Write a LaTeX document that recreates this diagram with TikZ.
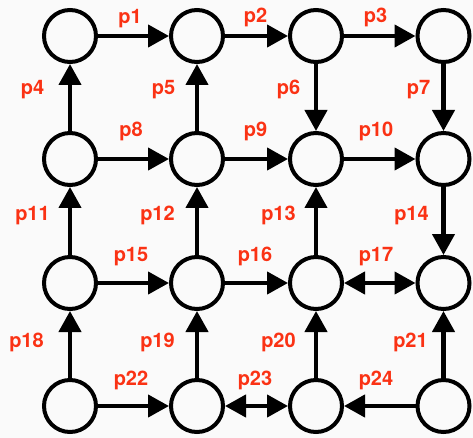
\documentclass[tikz,border=0pt]{standalone}
\usepackage{fontspec}
\setmainfont{TeX Gyre Heros}
\usetikzlibrary{arrows.meta}
\definecolor{lblred}{RGB}{250,50,20}
\definecolor{bg}{RGB}{250,250,250}
\tikzset{
  place/.style={circle, draw=black, line width=4pt, minimum size=52pt, inner sep=0pt},
  tip/.tip={Triangle[length=21pt,width=22pt]},
  edge/.style={line width=4.3pt, -tip},
  both/.style={line width=4.3pt, tip-tip},
  lbl/.style={text=lblred, font=\fontsize{20}{24}\selectfont\bfseries, anchor=base, inner sep=0pt},
}
\begin{document}
\begin{tikzpicture}[x=1pt, y=-1pt]
  \fill[bg] (0,0) rectangle (473,438);
  \useasboundingbox (0,0) rectangle (473,438);
  % 4x4 grid of places
  \foreach \r/\y in {1/36,2/159,3/283,4/406}{
    \foreach \c/\x in {1/70,2/197,3/316,4/443.5}{
      \node[place] (n\r\c) at (\x,\y) {};
    }
  }
  % horizontal connectors
  \draw[edge] (n11) -- (n12);
  \draw[edge] (n12) -- (n13);
  \draw[edge] (n13) -- (n14);
  \draw[edge] (n21) -- (n22);
  \draw[edge] (n22) -- (n23);
  \draw[edge] (n23) -- (n24);
  \draw[edge] (n31) -- (n32);
  \draw[edge] (n32) -- (n33);
  \draw[both] (n33) -- (n34);
  \draw[edge] (n41) -- (n42);
  \draw[both] (n42) -- (n43);
  \draw[edge] (n44) -- (n43);
  % vertical connectors
  \draw[edge] (n21) -- (n11);
  \draw[edge] (n22) -- (n12);
  \draw[edge] (n13) -- (n23);
  \draw[edge] (n14) -- (n24);
  \draw[edge] (n31) -- (n21);
  \draw[edge] (n32) -- (n22);
  \draw[edge] (n33) -- (n23);
  \draw[edge] (n24) -- (n34);
  \draw[edge] (n41) -- (n31);
  \draw[edge] (n42) -- (n32);
  \draw[edge] (n43) -- (n33);
  \draw[edge] (n44) -- (n34);
  % labels
  \node[lbl] (p1) at (130,24) {p1};
  \node[lbl] (p2) at (255.5,23) {p2};
  \node[lbl] (p3) at (375.5,23) {p3};
  \node[lbl] (p4) at (32.5,95) {p4};
  \node[lbl] (p5) at (163.5,95) {p5};
  \node[lbl] (p6) at (288.5,95) {p6};
  \node[lbl] (p7) at (418.5,95) {p7};
  \node[lbl] (p8) at (131,137) {p8};
  \node[lbl] (p9) at (255.5,137) {p9};
  \node[lbl] (p10) at (376,137) {p10};
  \node[lbl] (p11) at (32.5,221) {p11};
  \node[lbl] (p12) at (157.5,221) {p12};
  \node[lbl] (p13) at (278.5,221) {p13};
  \node[lbl] (p14) at (411.5,221) {p14};
  \node[lbl] (p15) at (131,261) {p15};
  \node[lbl] (p16) at (255,261) {p16};
  \node[lbl] (p17) at (376,261) {p17};
  \node[lbl] (p18) at (26.5,347) {p18};
  \node[lbl] (p19) at (157.5,347) {p19};
  \node[lbl] (p20) at (278.5,347) {p20};
  \node[lbl] (p21) at (410.5,347) {p21};
  \node[lbl] (p22) at (131,385) {p22};
  \node[lbl] (p23) at (255,385) {p23};
  \node[lbl] (p24) at (376,385) {p24};
\end{tikzpicture}
\end{document}
